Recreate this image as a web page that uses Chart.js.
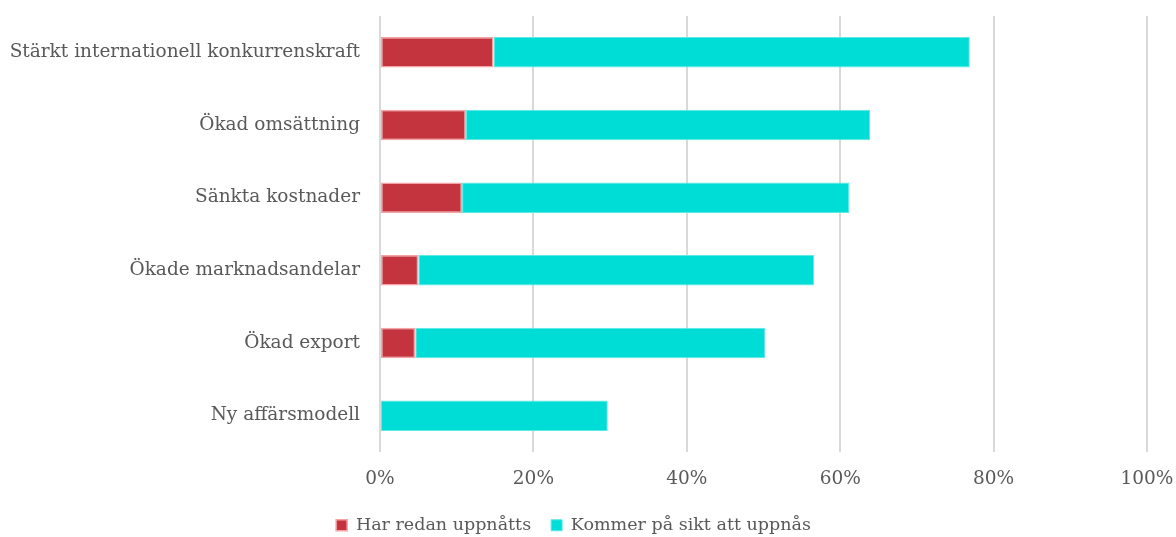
<!DOCTYPE html>
<html lang="sv">
<head>
<meta charset="UTF-8">
<title>Effekter av satsningen</title>
<script src="https://cdn.jsdelivr.net/npm/chart.js"></script>
<style>
    html, body { margin: 0; padding: 0; background: #fff; }
    #wrap { width: 1176px; height: 537px; position: relative; }
</style>
</head>
<body>
<div id="wrap"><canvas id="effectChart"></canvas></div>
<script>
const categories = [
    "Stärkt internationell konkurrenskraft",
    "Ökad omsättning",
    "Sänkta kostnader",
    "Ökade marknadsandelar",
    "Ökad export",
    "Ny affärsmodell"
];
const alreadyReached = [14.8, 11.2, 10.7, 5.0, 4.6, 0];
const reachLater = [62.1, 52.7, 50.5, 51.6, 45.6, 29.7];
const xTicks = [0, 20, 40, 60, 80, 100];

const serif = "'DejaVu Serif', Georgia, serif";
const textColor = "#595959";
const fontSize = 18.5;

new Chart(document.getElementById("effectChart"), {
    type: "bar",
    data: {
        labels: categories,
        datasets: [
            {
                label: "Har redan uppnåtts",
                data: alreadyReached,
                backgroundColor: "#c3343f",
                borderColor: "#f5a3a6",
                borderWidth: 1.5,
                borderSkipped: false
            },
            {
                label: "Kommer på sikt att uppnås",
                data: reachLater,
                backgroundColor: "#00dcd6",
                borderColor: "#5ee9e4",
                borderWidth: 1,
                borderSkipped: false
            }
        ]
    },
    options: {
        indexAxis: "y",
        responsive: true,
        maintainAspectRatio: false,
        animation: false,
        layout: { padding: { top: 16, right: 29, bottom: -7, left: 0 } },
        datasets: { bar: { categoryPercentage: 1, barPercentage: 0.42 } },
        scales: {
            x: {
                stacked: true,
                min: 0,
                max: 100,
                afterBuildTicks: scale => { scale.ticks = xTicks.map(v => ({ value: v })); },
                afterFit: scale => {
                    scale.height = 44.5;
                    scale.paddingLeft = 0;
                    scale.paddingRight = 0;
                },
                grid: { color: "#d9d9d9", lineWidth: 2, drawTicks: false },
                border: { display: false },
                ticks: {
                    color: textColor,
                    font: { family: serif, size: fontSize },
                    padding: 16,
                    callback: v => v + "%"
                }
            },
            y: {
                stacked: true,
                afterFit: scale => {
                    scale.width = 380;
                    scale.paddingTop = 0;
                    scale.paddingBottom = 0;
                },
                grid: { display: false, drawTicks: false },
                border: { display: false },
                ticks: {
                    color: textColor,
                    font: { family: serif, size: fontSize },
                    padding: 20
                }
            }
        },
        plugins: {
            legend: {
                position: "bottom",
                labels: {
                    color: textColor,
                    font: { family: serif, size: 17.5 },
                    boxWidth: 11,
                    boxHeight: 11,
                    padding: 20
                }
            },
            tooltip: { enabled: false }
        }
    }
});
</script>
</body>
</html>
